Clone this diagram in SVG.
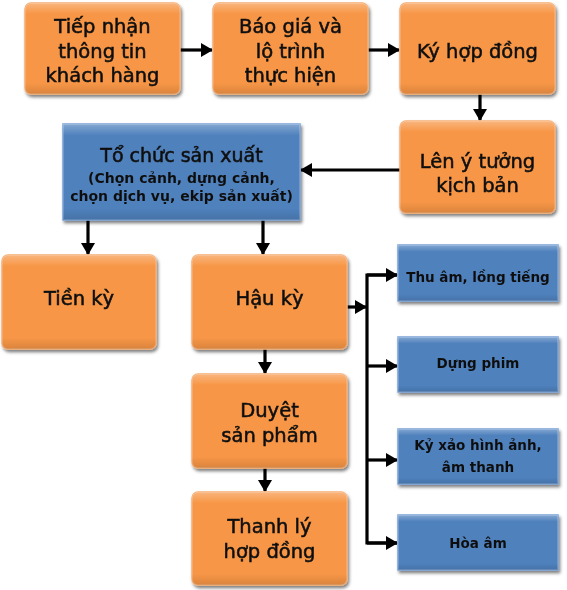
<svg xmlns="http://www.w3.org/2000/svg" width="567" height="590" viewBox="0 0 567 590">
<defs>
<style>
.o{fill:#F79646;stroke:#F6AE74;stroke-width:1.5}
.b{fill:#4F81BD;stroke:#7BA3D6;stroke-width:1.5}
.t{font-family:"DejaVu Sans",sans-serif;font-size:19.5px;fill:#111;stroke:#111;stroke-width:0.55;text-anchor:middle}
.s{font-family:"DejaVu Sans",sans-serif;font-size:13.5px;font-weight:bold;fill:#111;text-anchor:middle}
.c line,.c path{stroke:#000;stroke-width:3.2;fill:none}
</style>
<filter id="sh" x="-10%" y="-10%" width="125%" height="130%">
<feDropShadow dx="1.5" dy="2.5" stdDeviation="1.8" flood-color="#000" flood-opacity="0.5"/>
</filter>
<linearGradient id="gl" x1="0" y1="0" x2="0" y2="1">
<stop offset="0" stop-color="#fff" stop-opacity="0.3"/>
<stop offset="0.12" stop-color="#fff" stop-opacity="0"/>
<stop offset="0.88" stop-color="#000" stop-opacity="0"/>
<stop offset="1" stop-color="#000" stop-opacity="0.12"/>
</linearGradient>
<marker id="ar" markerUnits="userSpaceOnUse" markerWidth="12" markerHeight="14" refX="11" refY="7" orient="auto">
<path d="M0,0 L12,7 L0,14 Z" fill="#000"/>
</marker>
</defs>
<g class="c" id="connectors">
<line x1="180" y1="50" x2="212" y2="50" marker-end="url(#ar)"/>
<line x1="368" y1="50" x2="399" y2="50" marker-end="url(#ar)"/>
<line x1="480" y1="94" x2="480" y2="120" marker-end="url(#ar)"/>
<line x1="400" y1="170" x2="301" y2="170" marker-end="url(#ar)"/>
<line x1="88" y1="220" x2="88" y2="254" marker-end="url(#ar)"/>
<line x1="263" y1="220" x2="263" y2="254" marker-end="url(#ar)"/>
<line x1="265" y1="349" x2="265" y2="373" marker-end="url(#ar)"/>
<line x1="265" y1="468" x2="265" y2="491" marker-end="url(#ar)"/>
<line x1="347" y1="307" x2="366" y2="307" marker-end="url(#ar)"/>
<path d="M397,275 H367 V543 H397"/>
<line x1="367" y1="275" x2="397" y2="275" marker-end="url(#ar)"/>
<line x1="367" y1="366" x2="397" y2="366" marker-end="url(#ar)"/>
<line x1="367" y1="460" x2="397" y2="460" marker-end="url(#ar)"/>
<line x1="367" y1="543" x2="397" y2="543" marker-end="url(#ar)"/>
</g>
<g id="n1" filter="url(#sh)"><rect class="o" x="25" y="3" width="155" height="91" rx="6"/><rect x="25" y="3" width="155" height="91" rx="6" fill="url(#gl)"/>
<text class="t" x="102.5" y="33">Tiếp nhận</text><text class="t" x="102.5" y="57.5">thông tin</text><text class="t" x="102.5" y="82">khách hàng</text></g>
<g id="n2" filter="url(#sh)"><rect class="o" x="213" y="3" width="155" height="91" rx="6"/><rect x="213" y="3" width="155" height="91" rx="6" fill="url(#gl)"/>
<text class="t" x="290.5" y="33">Báo giá và</text><text class="t" x="290.5" y="57.5">lộ trình</text><text class="t" x="290.5" y="82">thực hiện</text></g>
<g id="n3" filter="url(#sh)"><rect class="o" x="400" y="3" width="155" height="91" rx="6"/><rect x="400" y="3" width="155" height="91" rx="6" fill="url(#gl)"/>
<text class="t" x="477.5" y="58">Ký hợp đồng</text></g>
<g id="n4" filter="url(#sh)"><rect class="o" x="400" y="121" width="155" height="92" rx="6"/><rect x="400" y="121" width="155" height="92" rx="6" fill="url(#gl)"/>
<text class="t" x="477.5" y="168">Lên ý tưởng</text><text class="t" x="477.5" y="192">kịch bản</text></g>
<g id="n5" filter="url(#sh)"><rect class="b" x="63" y="124" width="237" height="96"/><rect x="63" y="124" width="237" height="96" fill="url(#gl)"/>
<text class="t" x="181.5" y="162" style="font-size:19px">Tổ chức sản xuất</text>
<text class="s" x="181.5" y="183" style="font-size:14px">(Chọn cảnh, dựng cảnh,</text>
<text class="s" x="181.5" y="201" style="font-size:14px">chọn dịch vụ, ekip sản xuất)</text></g>
<g id="n6" filter="url(#sh)"><rect class="o" x="2" y="255" width="154" height="94" rx="6"/><rect x="2" y="255" width="154" height="94" rx="6" fill="url(#gl)"/>
<text class="t" x="79" y="305">Tiền kỳ</text></g>
<g id="n7" filter="url(#sh)"><rect class="o" x="192" y="255" width="155" height="94" rx="6"/><rect x="192" y="255" width="155" height="94" rx="6" fill="url(#gl)"/>
<text class="t" x="269.5" y="305">Hậu kỳ</text></g>
<g id="n8" filter="url(#sh)"><rect class="o" x="192" y="374" width="155" height="94" rx="6"/><rect x="192" y="374" width="155" height="94" rx="6" fill="url(#gl)"/>
<text class="t" x="269.5" y="417">Duyệt</text><text class="t" x="269.5" y="442">sản phẩm</text></g>
<g id="n9" filter="url(#sh)"><rect class="o" x="192" y="492" width="155" height="93" rx="6"/><rect x="192" y="492" width="155" height="93" rx="6" fill="url(#gl)"/>
<text class="t" x="269.5" y="533">Thanh lý</text><text class="t" x="269.5" y="558">hợp đồng</text></g>
<g id="n10" filter="url(#sh)"><rect class="b" x="398" y="245" width="160" height="56"/><rect x="398" y="245" width="160" height="56" fill="url(#gl)"/>
<text class="s" x="478" y="282">Thu âm, lồng tiếng</text></g>
<g id="n11" filter="url(#sh)"><rect class="b" x="398" y="337" width="160" height="55"/><rect x="398" y="337" width="160" height="55" fill="url(#gl)"/>
<text class="s" x="478" y="368">Dựng phim</text></g>
<g id="n12" filter="url(#sh)"><rect class="b" x="398" y="429" width="160" height="55"/><rect x="398" y="429" width="160" height="55" fill="url(#gl)"/>
<text class="s" x="478" y="450">Kỷ xảo hình ảnh,</text><text class="s" x="478" y="472">âm thanh</text></g>
<g id="n13" filter="url(#sh)"><rect class="b" x="398" y="515" width="160" height="55"/><rect x="398" y="515" width="160" height="55" fill="url(#gl)"/>
<text class="s" x="478" y="548">Hòa âm</text></g>
</svg>
